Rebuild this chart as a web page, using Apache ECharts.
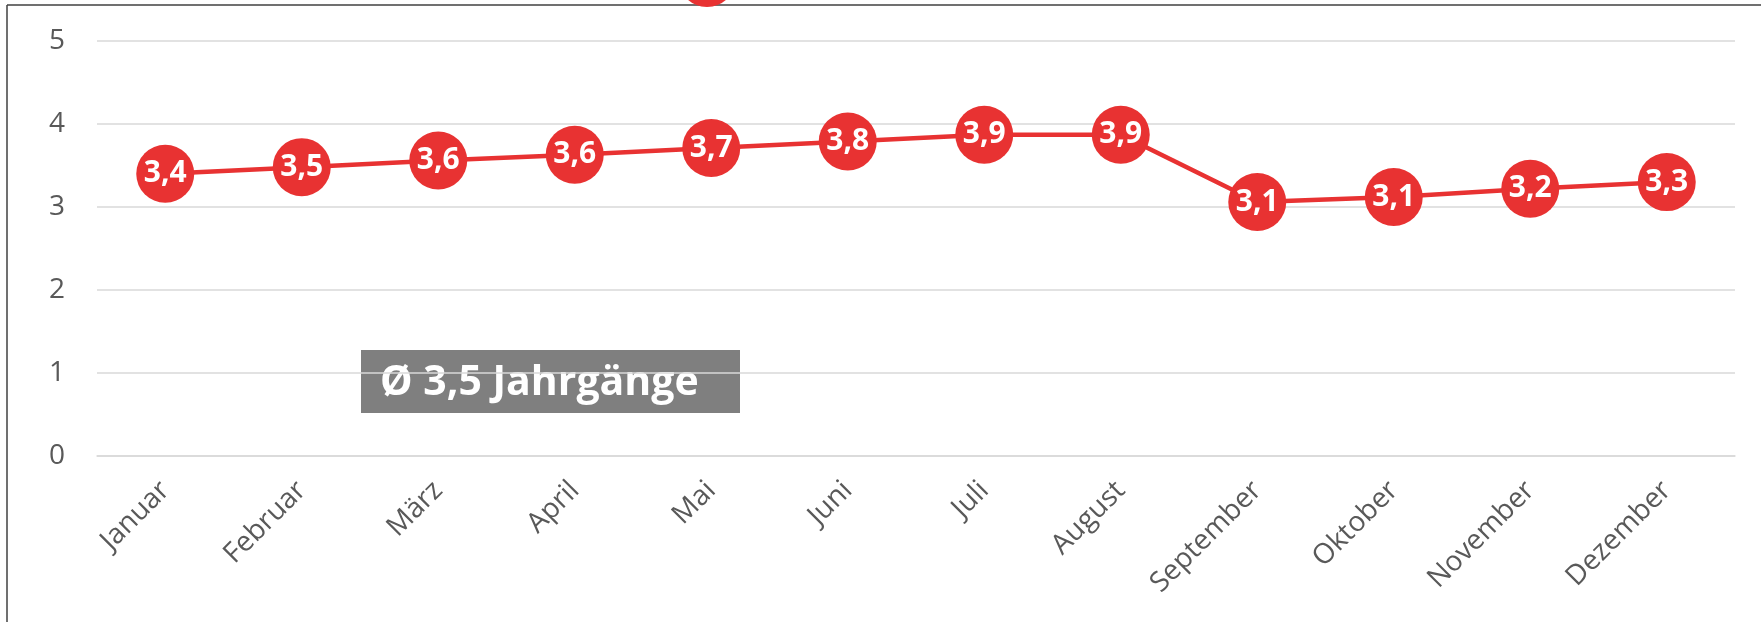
<!DOCTYPE html>
<html>
<head>
<meta charset="utf-8">
<script src="https://cdn.jsdelivr.net/npm/echarts@6/dist/echarts.min.js"></script>
<style>
    html, body { margin: 0; padding: 0; background: #ffffff; }
    #chart { width: 1761px; height: 622px; }
</style>
</head>
<body>
<div id="chart"></div>
<script>
// Daten
var monate = ["Januar", "Februar", "März", "April", "Mai", "Juni", "Juli", "August", "September", "Oktober", "November", "Dezember"];
var werte = [3.40, 3.48, 3.56, 3.63, 3.71, 3.79, 3.87, 3.87, 3.06, 3.12, 3.22, 3.30];
var yTicks = [0, 1, 2, 3, 4, 5];

var rot = "#e83232";
var grau = "#595959";
var gitter = "#d9d9d9";
var schrift = "'Open Sans', sans-serif";

function komma(v) {
    return v.toFixed(1).replace(".", ",");
}

// Durchschnitt aus den Werten
var summe = werte.reduce(function (a, b) { return a + b; }, 0);
var schnitt = summe / werte.length;

var chartDom = document.getElementById("chart");
var myChart = echarts.init(chartDom);

var option = {
    backgroundColor: "#ffffff",
    animation: false,
    grid: { left: 97, right: 26, top: 41, bottom: 166, outerBoundsMode: "none" },
    xAxis: {
        type: "category",
        data: monate,
        axisLine: { show: true, lineStyle: { color: gitter, width: 1.5 } },
        axisTick: { show: false },
        axisLabel: { color: grau, fontSize: 28, fontFamily: schrift, rotate: 45, margin: 30, interval: 0 }
    },
    yAxis: {
        type: "value",
        min: yTicks[0],
        max: yTicks[yTicks.length - 1],
        interval: 1,
        axisLine: { show: false },
        axisTick: { show: false },
        splitLine: { lineStyle: { color: gitter, width: 1.5 } },
        axisLabel: { color: grau, fontSize: 28, fontFamily: schrift, margin: 32 }
    },
    series: [
        {
            type: "line",
            data: werte,
            symbol: "circle",
            symbolSize: 58,
            lineStyle: { color: rot, width: 4.5 },
            itemStyle: { color: rot },
            label: {
                show: true,
                position: "inside",
                color: "#ffffff",
                fontWeight: "bold",
                fontSize: 30,
                fontFamily: schrift,
                formatter: function (p) { return komma(p.value); }
            },
            z: 3
        }
    ],
    graphic: [
        // Rahmen oben und links
        { type: "line", shape: { x1: 7, y1: 5, x2: 1761, y2: 5 }, style: { stroke: "#404040", lineWidth: 1.5 }, z: 10 },
        { type: "line", shape: { x1: 7, y1: 5, x2: 7, y2: 622 }, style: { stroke: "#404040", lineWidth: 1.5 }, z: 10 },
        // angeschnittener Punkt oben
        { type: "circle", shape: { cx: 707, cy: -22, r: 29 }, style: { fill: rot }, z: 11 },
        // Durchschnitts-Box
        {
            type: "group",
            left: 361,
            top: 350,
            z: 20,
            children: [
                { type: "rect", shape: { x: 0, y: 0, width: 379, height: 63 }, style: { fill: "#7f7f7f" } },
                {
                    type: "text",
                    x: 19,
                    y: 33,
                    style: {
                        text: "Ø " + komma(schnitt) + " Jahrgänge",
                        fill: "#ffffff",
                        font: "bold 41px 'Open Sans', sans-serif",
                        verticalAlign: "middle"
                    }
                }
            ]
        }
    ]
};

myChart.setOption(option);
</script>
</body>
</html>
